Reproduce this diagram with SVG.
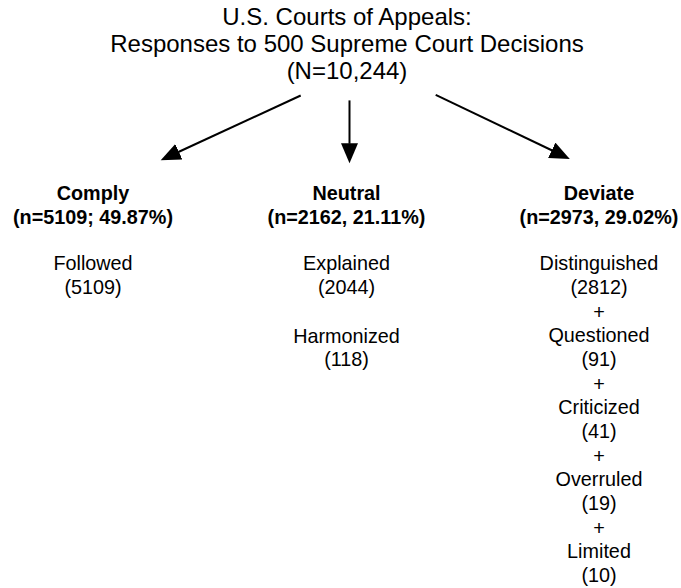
<svg xmlns="http://www.w3.org/2000/svg" width="681" height="588" viewBox="0 0 681 588">
  <style>
    text { font-family: "Liberation Sans", Arial, Helvetica, sans-serif; fill: #000; text-anchor: middle; }
    .title { font-size: 24px; }
    .head { font-size: 19.8px; font-weight: bold; }
    .body { font-size: 19.8px; }
    .conn { stroke: #000; stroke-width: 2; fill: none; marker-end: url(#arrow); }
  </style>
  <defs>
    <marker id="arrow" markerUnits="userSpaceOnUse" markerWidth="21" markerHeight="18" refX="0.5" refY="8.5" orient="auto">
      <path d="M0,0 L20,8.5 L0,17 Z" fill="#000"/>
    </marker>
  </defs>
  <rect width="681" height="588" fill="#fff"/>
  <g id="root">
    <text class="title" x="347" y="24.5">U.S. Courts of Appeals:</text>
    <text class="title" x="347" y="51.5">Responses to 500 Supreme Court Decisions</text>
    <text class="title" x="347" y="79">(N=10,244)</text>
  </g>
  <g id="connectors">
    <line class="conn" x1="300.7" y1="95.5" x2="178.4" y2="152.0"/>
    <line class="conn" x1="349.5" y1="100.4" x2="349.5" y2="143.7"/>
    <line class="conn" x1="435.7" y1="94.8" x2="552.2" y2="150.5"/>
  </g>
  <g id="comply">
    <text class="head" x="93" y="199.6">Comply</text>
    <text class="head" x="93" y="223.5">(n=5109; 49.87%)</text>
    <text class="body" x="93" y="270.4">Followed</text>
    <text class="body" x="93" y="294.4">(5109)</text>
  </g>
  <g id="neutral">
    <text class="head" x="346.5" y="199.6">Neutral</text>
    <text class="head" x="346.5" y="223.5">(n=2162, 21.11%)</text>
    <text class="body" x="346.5" y="270.4">Explained</text>
    <text class="body" x="346.5" y="294.4">(2044)</text>
    <text class="body" x="346.5" y="342.5">Harmonized</text>
    <text class="body" x="346.5" y="366.3">(118)</text>
  </g>
  <g id="deviate">
    <text class="head" x="599" y="199.6">Deviate</text>
    <text class="head" x="599" y="223.5">(n=2973, 29.02%)</text>
    <text class="body" x="599" y="270.4">Distinguished</text>
    <text class="body" x="599" y="294.4">(2812)</text>
    <text class="body" x="599" y="319">+</text>
    <text class="body" x="599" y="342.2">Questioned</text>
    <text class="body" x="599" y="366.2">(91)</text>
    <text class="body" x="599" y="391">+</text>
    <text class="body" x="599" y="414">Criticized</text>
    <text class="body" x="599" y="438">(41)</text>
    <text class="body" x="599" y="463">+</text>
    <text class="body" x="599" y="485.8">Overruled</text>
    <text class="body" x="599" y="509.8">(19)</text>
    <text class="body" x="599" y="535">+</text>
    <text class="body" x="599" y="557.6">Limited</text>
    <text class="body" x="599" y="581.6">(10)</text>
  </g>
</svg>
